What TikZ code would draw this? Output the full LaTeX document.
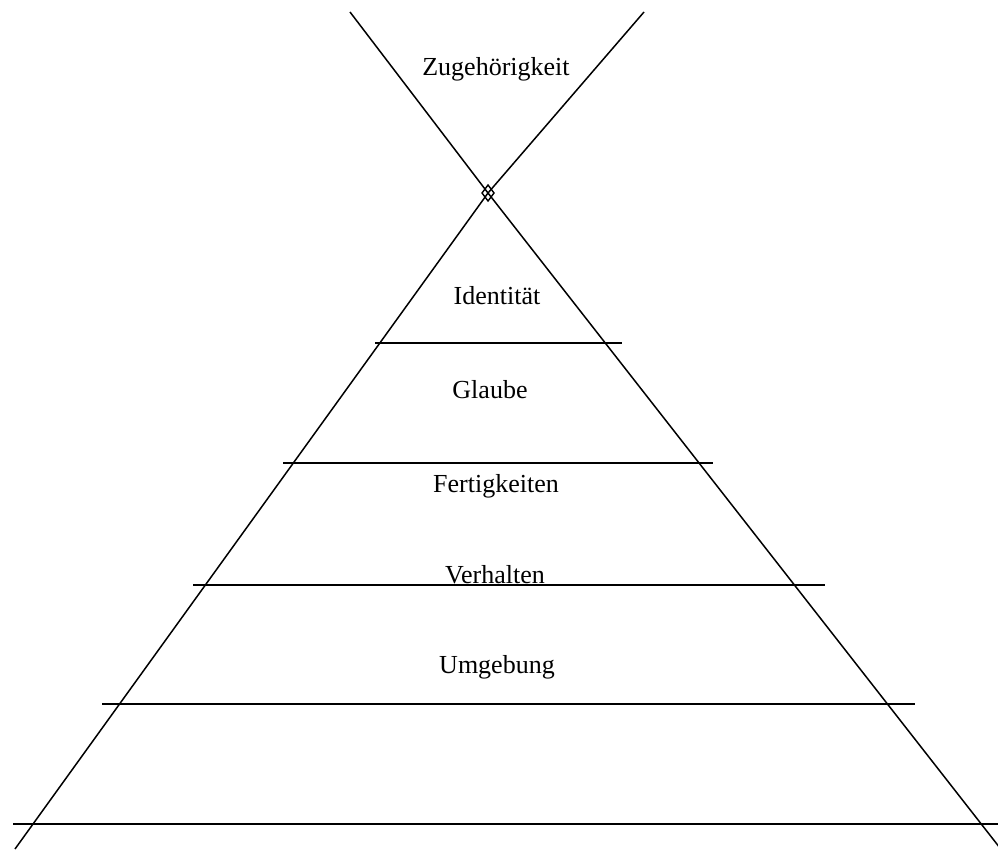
\documentclass[tikz,border=0pt]{standalone}
\usepackage{fontspec}
\setmainfont{Liberation Serif}
\begin{document}
\begin{tikzpicture}[x=1pt, y=-1pt, line width=1.5pt,
  level/.style={font=\fontsize{26}{30}\selectfont, anchor=base, inner sep=0pt},
  rung/.style={line width=1.7pt}]
  \useasboundingbox (0,0) rectangle (998,850);
  % Crossing lines
  \coordinate (apex) at (488,193);
  \coordinate (topleft) at (350,12);
  \coordinate (topright) at (644,12);
  \coordinate (footleft) at (15,849);
  \coordinate (footright) at (1000,848);
  \draw (topleft) -- (apex) -- (footright);
  \draw (topright) -- (apex) -- (footleft);
  \draw[line width=1.4pt] (apex) ++(0,-8) -- ++(6,8) -- ++(-6,8) -- ++(-6,-8) -- cycle;
  % Top
  \node[level] (zugehoerigkeit) at (496,76) {Zugehörigkeit};
  % Level 1
  \node[level] (identitaet) at (497,305) {Identität};
  \draw[rung] (375,343) -- (622,343);
  % Level 2
  \node[level] (glaube) at (490,398) {Glaube};
  \draw[rung] (283,463) -- (713,463);
  % Level 3
  \node[level] (fertigkeiten) at (496,492) {Fertigkeiten};
  \draw[rung] (193,585) -- (825,585);
  \node[level] (verhalten) at (495,583) {Verhalten};
  % Level 4
  \node[level] (umgebung) at (497,673) {Umgebung};
  \draw[rung] (102,704) -- (915,704);
  % Base
  \draw[rung] (13,824) -- (998,824);
\end{tikzpicture}
\end{document}
